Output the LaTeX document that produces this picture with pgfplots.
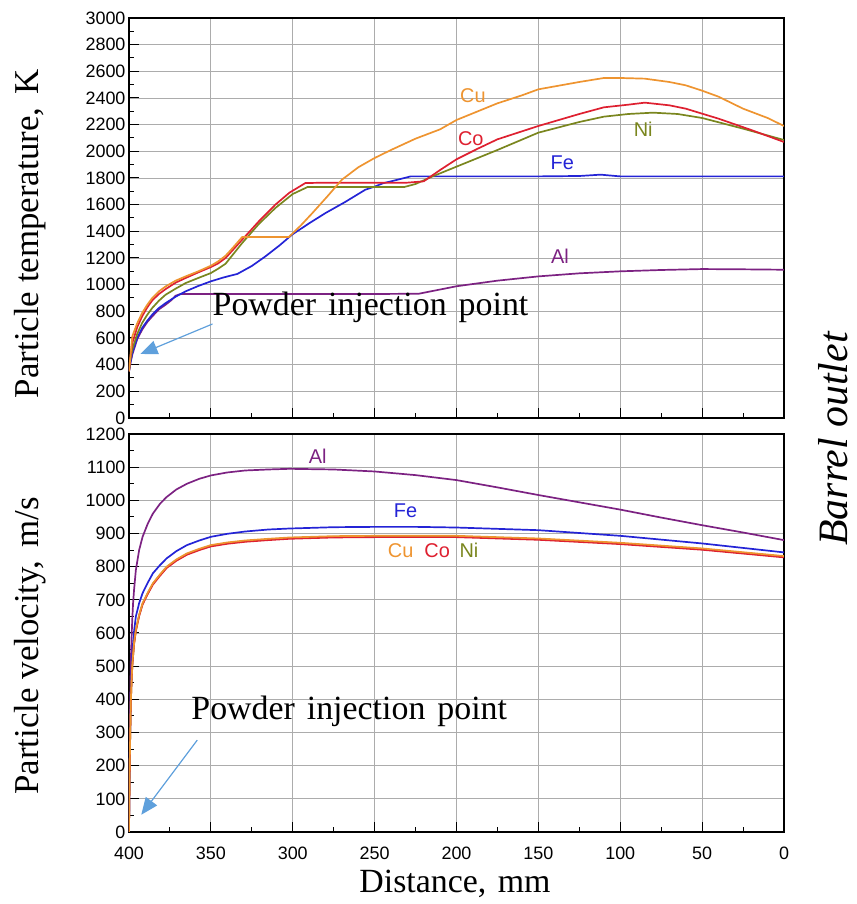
\documentclass[border=0pt]{standalone}
\usepackage{fontspec}
\setmainfont{Liberation Serif}
\setsansfont{Liberation Sans}
\usepackage{pgfplots}
\pgfplotsset{compat=1.18}
\usetikzlibrary{arrows.meta}

\definecolor{cCu}{RGB}{238,148,48}
\definecolor{cCo}{RGB}{222,32,48}
\definecolor{cNi}{RGB}{122,134,30}
\definecolor{cFe}{RGB}{36,36,214}
\definecolor{cAl}{RGB}{124,34,130}
\definecolor{cArrow}{RGB}{95,160,220}
\definecolor{cGrid}{RGB}{172,172,172}

\pgfplotsset{
  panel/.style={
    scale only axis, width=655bp, anchor=south west,
    x dir=reverse, xmin=0, xmax=400,
    xtick distance=50, minor x tick num=1,
    tick align=inside, tick pos=left,
    major tick length=10bp, minor tick length=5bp,
    tick style={black, line width=1bp},
    grid=major, grid style={cGrid, line width=0.9bp},
    axis line style={black, line width=1.4bp},
    ticklabel style={font=\fontsize{18}{18}\selectfont\sffamily},
    /pgf/number format/assume math mode=true,
    /pgf/number format/1000 sep={},
    every axis plot/.append style={line width=1.7bp, mark=none},
  },
}
\tikzset{
  lab/.style={font=\fontsize{20}{20}\selectfont\sffamily},
  note/.style={anchor=base west, inner sep=0pt, font=\fontsize{34}{34}\selectfont},
  pointer/.style={cArrow, line width=1.2bp, -{Triangle[length=17bp,width=14bp]}},
}

\begin{document}
\begin{tikzpicture}
\useasboundingbox (0,0) rectangle (857bp,904bp);

% temperature panel
\begin{axis}[panel, at={(129bp,486bp)}, height=400bp,
  ymin=0, ymax=3000, ytick distance=200, minor y tick num=1,
  xticklabels={}]
\addplot[cAl] coordinates {(400,350)(399,420)(398,475)(395,590)(392,662)(388.8,720)(385.8,762)(381.7,815)(377.6,850)(374,885)(371.5,917)(368.5,930)(300,930)(250,930)(223,932)(200,988)(175,1030)(150,1062)(125,1085)(100,1100)(75,1110)(50,1117)(25,1115)(0,1112)};
\addplot[cFe] coordinates {(400,350)(399,420)(398,487)(395,600)(392,675)(388.8,730)(385.8,775)(381.7,825)(377.6,862)(371.5,910)(365.4,950)(357.7,990)(350,1025)(342,1055)(333.9,1080)(325,1140)(316.7,1212)(308,1295)(300.4,1375)(290,1460)(280,1537)(268,1620)(255.7,1712)(250,1735)(245,1760)(235,1790)(228,1812)(200,1812)(150,1812)(125,1815)(112,1825)(100,1812)(50,1812)(0,1812)};
\addplot[cNi] coordinates {(400,350)(399,450)(398,512)(395,630)(392,712)(388.8,775)(385.8,825)(381.7,880)(377.6,925)(371.5,970)(365.4,1012)(357.7,1050)(350,1087)(345.5,1120)(341,1157)(330.9,1312)(320.7,1455)(310.6,1575)(300,1680)(291,1732)(250,1732)(232,1732)(225,1755)(215,1810)(200,1885)(175,2010)(150,2140)(125,2220)(110,2260)(95,2280)(80,2290)(65,2280)(50,2250)(25,2170)(0,2085)};
\addplot[cCo] coordinates {(400,350)(399,470)(398,562)(395,680)(392,762)(388.8,830)(385.8,882)(381.7,930)(377.6,967)(371.5,1015)(365.4,1050)(357.7,1092)(350,1132)(345.5,1160)(341,1200)(330.9,1337)(320.7,1475)(310.6,1600)(302,1690)(292.3,1762)(280,1765)(250,1765)(230,1765)(220,1775)(210,1860)(200,1940)(187,2020)(175,2090)(160,2150)(150,2190)(125,2280)(110,2330)(95,2350)(85,2365)(70,2345)(60,2320)(40,2245)(20,2160)(0,2070)};
\addplot[cCu] coordinates {(400,350)(399,480)(398,612)(395,710)(392,787)(388.8,850)(385.8,900)(381.7,950)(377.6,987)(371.5,1030)(365.4,1062)(357.7,1100)(350,1142)(345.5,1175)(341,1217)(336,1285)(330.9,1357)(320,1357)(310,1357)(302.4,1357)(295,1445)(288,1537)(279,1660)(270,1787)(260,1880)(250,1950)(240,2010)(225,2095)(210,2165)(200,2235)(175,2360)(160,2420)(150,2465)(125,2520)(110,2550)(100,2550)(85,2545)(70,2520)(60,2495)(50,2455)(40,2410)(25,2320)(10,2250)(0,2190)};
\node[lab, text=cCu] at (axis cs:190,2415) {Cu};
\node[lab, text=cCo] at (axis cs:191.3,2098) {Co};
\node[lab, text=cNi] at (axis cs:86,2165) {Ni};
\node[lab, text=cFe] at (axis cs:135.4,1918) {Fe};
\node[lab, text=cAl] at (axis cs:136.8,1215) {Al};
\node[note] at (axis cs:349,772) {Powder\hspace{12bp}injection\hspace{12bp}point};
\draw[pointer] (axis cs:349,705) -- (axis cs:393,480);
\end{axis}

% velocity panel
\begin{axis}[panel, at={(129bp,72bp)}, height=398bp,
  ymin=0, ymax=1200, ytick distance=100, minor y tick num=1,
  xticklabel style={yshift=-11bp}]
\addplot[cAl] coordinates {(400,0)(399.8,130)(399.6,260)(399.3,380)(398.9,510)(398.4,590)(398,640)(397.5,690)(396.9,730)(395.8,790)(393.8,850)(391.7,890)(388.5,930)(385.4,960)(381,990)(377,1010)(371,1033)(364.6,1050)(357,1065)(350,1075)(340,1084)(329,1090)(315,1093)(302,1095)(275,1093)(250,1087)(225,1076)(200,1061)(175,1039)(150,1016)(125,994)(100,972)(75,948)(50,925)(25,903)(0,880)};
\addplot[cFe] coordinates {(400,0)(399.8,100)(399.6,200)(399.3,300)(398.9,420)(398.4,490)(397.9,545)(396.9,605)(395.8,650)(393.8,690)(391.7,720)(388.5,752)(385.4,780)(381,805)(377,825)(371,847)(364.6,865)(357,879)(350,890)(340,899)(329,906)(315,912)(302,915)(275,919)(250,920)(225,920)(200,918)(150,910)(100,893)(50,870)(0,843)};
\addplot[cNi] coordinates {(400,0)(399.8,88)(399.6,183)(399.3,278)(398.9,388)(398.4,458)(397.9,508)(396.9,568)(395.8,608)(393.8,653)(391.7,688)(388.5,720)(385.4,748)(381,775)(377,798)(371,820)(364.6,838)(357,852)(350,863)(340,871)(329,877)(315,882)(302,886)(275,890)(250,891)(225,891)(200,891)(150,883)(100,870)(50,853)(0,830)};
\addplot[cCo] coordinates {(400,0)(399.8,86)(399.6,181)(399.3,276)(398.9,386)(398.4,456)(397.9,506)(396.9,566)(395.8,606)(393.8,651)(391.7,686)(388.5,718)(385.4,746)(381,773)(377,796)(371,818)(364.6,836)(357,850)(350,861)(340,869)(329,875)(315,880)(302,884)(275,888)(250,889)(225,889)(200,889)(150,881)(100,868)(50,851)(0,828)};
\addplot[cCu] coordinates {(400,0)(399.8,90)(399.6,185)(399.3,280)(398.9,390)(398.4,460)(397.9,510)(396.9,570)(395.8,610)(393.8,655)(391.7,690)(388.5,722)(385.4,750)(381,777)(377,800)(371,822)(364.6,840)(357,854)(350,865)(340,873)(329,879)(315,884)(302,888)(275,892)(250,893)(225,893)(200,893)(150,885)(100,872)(50,855)(0,832)};
\node[lab, text=cAl] at (axis cs:284.8,1133) {Al};
\node[lab, text=cFe] at (axis cs:231.1,969) {Fe};
\node[lab, text=cCu] at (axis cs:234.1,848) {Cu};
\node[lab, text=cCo] at (axis cs:211.8,848) {Co};
\node[lab, text=cNi] at (axis cs:192.4,848) {Ni};
\node[note] at (axis cs:362,338) {Powder\hspace{12bp}injection\hspace{12bp}point};
\draw[pointer] (axis cs:358.3,277) -- (axis cs:392.5,52);
\end{axis}

\node[rotate=90, font=\fontsize{35}{35}\selectfont] at (30bp,670bp) {Particle temperature,\hspace{4bp} K};
\node[rotate=90, font=\fontsize{35}{35}\selectfont] at (30bp,258bp) {Particle velocity,\hspace{4bp} m/s};
\node[font=\fontsize{34}{34}\selectfont] at (455bp,20bp) {Distance,\hspace{3bp} mm};
\node[rotate=90, font=\fontsize{42}{42}\selectfont\itshape] at (833bp,465bp) {Barrel outlet};
\end{tikzpicture}
\end{document}
